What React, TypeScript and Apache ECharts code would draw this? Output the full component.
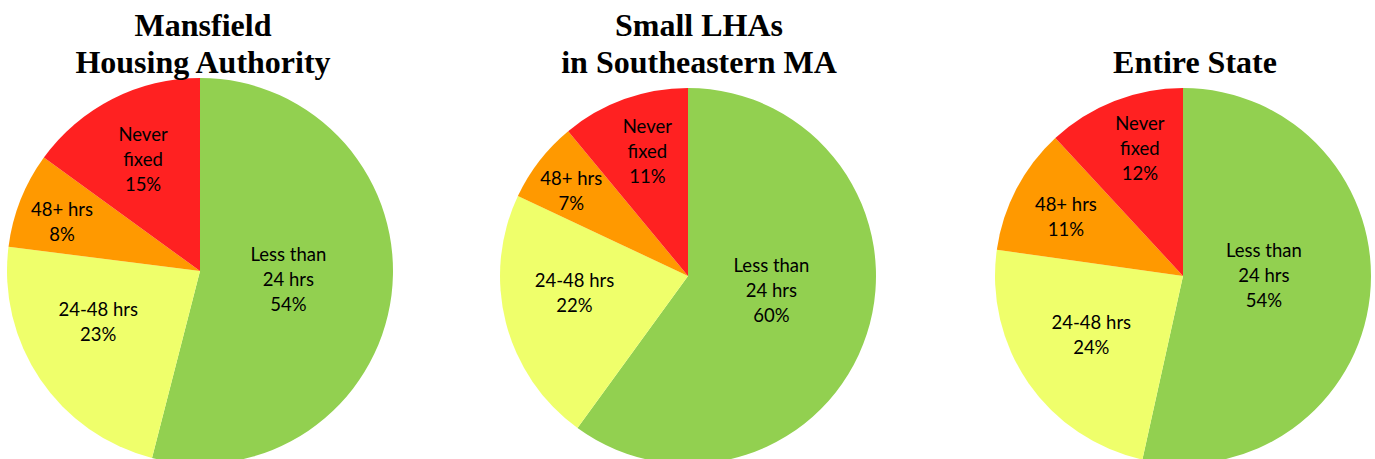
import React, { useEffect, useRef } from "react";
import * as echarts from "echarts";

const categories = ["Less than\n24 hrs", "24-48 hrs", "48+ hrs", "Never\nfixed"];
const mansfield = [54, 23, 8, 15];
const smallLHAs = [60, 22, 7, 11];
const entireState = [54, 24, 11, 12];
const titles = ["Mansfield\nHousing Authority", "Small LHAs\nin Southeastern MA", "Entire State"];

const colors = ["#92D050", "#EFFF6B", "#FF9900", "#FF2121"];

// layout (pixels)
const centers: [number, number][] = [[200, 271], [688, 276], [1183, 276]];
const radii = [193, 188, 188];
const titleX = [203, 699, 1195];
const titleTop = [6, 6, 43];
// label anchor: fraction of radius, angle shift (deg) from slice bisector
const labelRadius = [
  [0.46, 0.59, 0.76, 0.65],
  [0.45, 0.61, 0.77, 0.70],
  [0.43, 0.58, 0.70, 0.72],
];
const labelShift = [
  [-2, 7.6, -1.7, 0],
  [-8.5, 6.3, -1.5, 1.8],
  [-6.7, 2, -0.5, 2.8],
];

export default function App() {
  const ref = useRef<HTMLDivElement>(null);
  useEffect(() => {
    document.body.style.margin = "0";
    const chart = echarts.init(ref.current!, null, { renderer: "svg" });
    const allData = [mansfield, smallLHAs, entireState];
    const series = allData.map((vals, si) => {
      const total = vals.reduce((a, b) => a + b, 0);
      return {
        type: "pie",
        center: centers[si],
        radius: radii[si],
        startAngle: 90,
        clockwise: true,
        avoidLabelOverlap: false,
        silent: true,
        data: vals.map((v, i) => ({
          name: categories[i],
          value: v,
          itemStyle: { color: colors[i] },
        })),
        label: {
          show: true,
          position: "inside",
          formatter: "{b}\n{c}%",
          color: "#000",
          fontFamily: "Lato",
          fontSize: 18.5,
          lineHeight: 25,
        },
        labelLine: { show: false },
        labelLayout: (p: any) => {
          const i = p.dataIndex;
          let before = 0;
          for (let k = 0; k < i; k++) before += vals[k];
          const mid =
            ((before + vals[i] / 2) / total) * Math.PI * 2 +
            (labelShift[si][i] * Math.PI) / 180;
          const f = labelRadius[si][i];
          const r = radii[si];
          return {
            x: centers[si][0] + f * r * Math.sin(mid),
            y: centers[si][1] - f * r * Math.cos(mid),
            align: "center",
            verticalAlign: "middle",
          };
        },
      };
    });
    chart.setOption({
      animation: false,
      backgroundColor: "#fff",
      title: titles.map((t, i) => ({
        text: t,
        left: titleX[i],
        top: titleTop[i],
        textAlign: "center",
        padding: 0,
        textStyle: {
          fontFamily: "Liberation Serif",
          fontWeight: "bold",
          fontSize: 32,
          lineHeight: 37,
          color: "#000",
        },
      })),
      series,
    });
    return () => chart.dispose();
  }, []);
  return <div ref={ref} style={{ width: 1375, height: 459 }} />;
}
